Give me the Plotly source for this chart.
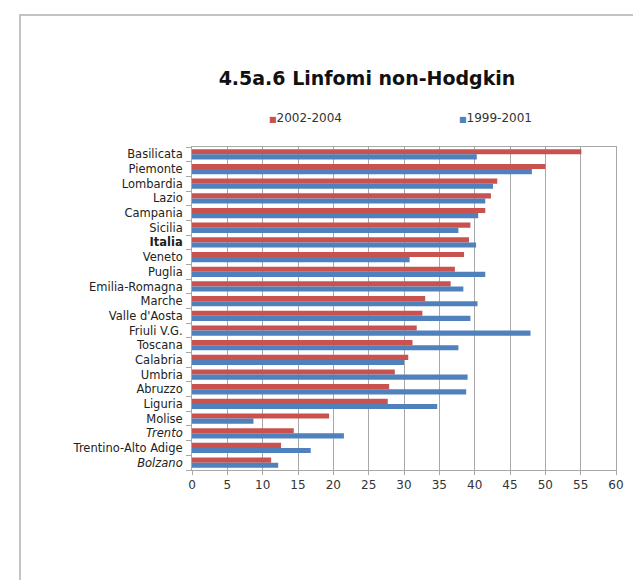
import plotly.graph_objects as go

regions = ["Basilicata", "Piemonte", "Lombardia", "Lazio", "Campania", "Sicilia",
           "Italia", "Veneto", "Puglia", "Emilia-Romagna", "Marche", "Valle d'Aosta",
           "Friuli V.G.", "Toscana", "Calabria", "Umbria", "Abruzzo", "Liguria",
           "Molise", "Trento", "Trentino-Alto Adige", "Bolzano"]
v2002_2004 = [55.1, 50.0, 43.2, 42.3, 41.5, 39.4, 39.2, 38.5, 37.2, 36.6, 33.0,
              32.6, 31.8, 31.2, 30.6, 28.7, 27.9, 27.7, 19.4, 14.4, 12.6, 11.2]
v1999_2001 = [40.3, 48.1, 42.6, 41.5, 40.5, 37.7, 40.2, 30.8, 41.5, 38.4, 40.4,
              39.4, 47.9, 37.7, 30.0, 39.0, 38.8, 34.7, 8.7, 21.5, 16.8, 12.2]
series_names = ["2002-2004", "1999-2001"]
x_ticks = [0, 5, 10, 15, 20, 25, 30, 35, 40, 45, 50, 55, 60]
title_text = "4.5a.6 Linfomi non-Hodgkin"

RED = "#C9514E"
BLUE = "#4F81BD"
GRID = "#A8A8A8"

def fmt(r):
    if r == "Italia":
        return "<b>" + r + "</b>"
    if r in ("Trento", "Bolzano"):
        return "<i>" + r + "</i>"
    return r

fig = go.Figure()
fig.add_trace(go.Bar(y=regions, x=v2002_2004, orientation="h", name=series_names[0],
                     marker=dict(color=RED, line=dict(width=0)), showlegend=False))
fig.add_trace(go.Bar(y=regions, x=v1999_2001, orientation="h", name=series_names[1],
                     marker=dict(color=BLUE, line=dict(width=0)), showlegend=False))

W, H = 641, 580
L, R, T, B = 184, 641 - 608, 139, 580 - 462
pw, ph = W - L - R, H - T - B

def px_x(p):
    return (p - L) / pw

def px_y(p):
    return (H - B - p) / ph

fig.update_layout(
    width=W, height=H,
    margin=dict(l=L, r=R, t=T, b=B, pad=0),
    paper_bgcolor="white", plot_bgcolor="white",
    barmode="group", bargap=0.3, bargroupgap=0.0,
    title=dict(text=title_text, x=359 / W, xref="container", xanchor="center",
               y=1 - 70 / H, yref="container", yanchor="middle",
               font=dict(family="DejaVu Sans", size=19, color="#111", weight="bold")),
    xaxis=dict(range=[0, 60], tickvals=x_ticks, showgrid=True, gridcolor=GRID, gridwidth=1,
               zeroline=False, showline=True, linecolor=GRID, linewidth=1, mirror=True,
               ticks="outside", ticklen=4, tickcolor=GRID,
               tickfont=dict(family="DejaVu Sans", size=12, color="#333")),
    yaxis=dict(autorange="reversed", type="category", tickvals=regions,
               ticktext=[fmt(r) for r in regions],
               showline=True, linecolor=GRID, linewidth=1, mirror=True,
               ticks="outside", ticklen=5, tickcolor=GRID, tickson="boundaries",
               ticklabelstandoff=6, showgrid=False,
               tickfont=dict(family="DejaVu Sans", size=11.5, color="#222")),
    showlegend=False,
)

# legend entries (small square marker + label)
for name, color, xp in [(series_names[0], RED, 259), (series_names[1], BLUE, 449)]:
    fig.add_annotation(
        xref="paper", yref="paper", x=px_x(xp), y=px_y(110), xanchor="left", yanchor="middle",
        showarrow=False,
        text='<span style="color:%s;font-size:8px">■</span>%s' % (color, name),
        font=dict(family="DejaVu Sans", size=12, color="#333"))

# outer chart frame
fig.add_shape(type="rect", xref="paper", yref="paper",
              x0=px_x(12), x1=px_x(637), y0=px_y(600), y1=px_y(7),
              line=dict(color="#C4C4C4", width=2), fillcolor="rgba(0,0,0,0)", layer="below")

fig.write_html("out.html")
